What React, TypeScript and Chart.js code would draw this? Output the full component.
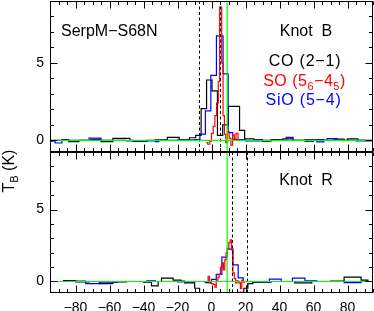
import React, { useEffect, useRef } from 'react';
import { Chart, registerables } from 'chart.js';

Chart.register(...registerables);

// ---------- data ----------
const velocityMin = -95;
const velocityMax = 95;
const xTickLabels = [-80, -60, -40, -20, 0, 20, 40, 60, 80];
const yTickLabels = [0, 5];
const knotBRange = [-0.75, 9.0];
const knotRRange = [-0.8, 9.0];

// Knot B (top panel) — channel left edges (km/s) and T_B (K)
const coB_v = [-95, -88, -84, -78, -71, -65, -58, -48, -46, -38, -33, -26, -19, -13, -9.3, -6.1, -2.9, 0.3, 3.5, 6.6, 9.9, 16.5, 19.5, 25, 30, 35, 42, 48, 55, 60, 66, 72, 78, 80, 86, 90, 95];
const coB_T = [0.0, 0.05, -0.08, 0.0, 0.05, -0.08, 0.13, 0.0, -0.07, 0.0, 0.03, 0.2, 0.05, 0.17, 0.32, 2.05, 3.9, 3.2, 0.32, 1.0, 2.2, 0.65, 0.1, 0.05, -0.05, 0.05, 0.1, 0.0, -0.05, 0.05, 0.0, 0.08, 0.0, 0.1, 0.02, 0.0, 0.0];

const sioB_v = [-95, -92, -88, -72, -65, -50, -33, -31, -20, -10, -6.8, -3.6, -0.4, 2.9, 6.8, 9.8, 12.5, 20, 30, 44, 48, 55, 62, 66, 68, 74, 85, 95];
const sioB_T = [-0.05, -0.17, 0.0, 0.15, 0.0, -0.03, -0.08, 0.0, 0.03, 0.05, 0.4, 1.9, 4.2, 6.75, 4.3, 0.5, 0.05, -0.03, 0.0, 0.2, 0.0, 0.05, -0.1, 0.0, 0.12, 0.0, -0.03, -0.03];

const soB_v = [-3.0, -2.2, -1.0, 0.0, 1.0, 2.0, 3.0, 4.0, 4.8, 6.0, 6.8, 7.6, 8.4, 9.4, 10.4, 11.4, 12.4, 13.4, 14.4, 15.6, 16.6];
const soB_T = [-0.15, -0.25, -0.05, 0.45, 0.9, 1.6, 2.4, 3.8, 8.6, 5.0, 1.6, 0.4, -0.15, 0.55, 0.15, -0.3, 0.35, 0.1, 0.45, 0.0, 0.0];

// Knot R (bottom panel)
const coR_v = [-95, -87, -80, -72, -66, -58, -50, -40, -35.3, -31.4, -29.4, -22.6, -18, -15.8, -9.9, -7.0, 16.0, 19.0, 21.4, 24.3, 35, 49, 59, 70, 78, 88, 92, 95];
const coR_T = [0.0, 0.07, -0.03, 0.0, -0.15, -0.03, 0.0, -0.05, -0.3, 0.0, 0.24, 0.1, 0.03, -0.1, -0.47, -1.5, -0.75, -0.47, -0.15, -0.05, 0.0, -0.1, 0.0, 0.03, 0.3, 0.1, 0.0, 0.0];

const sioR_v = [-95, -85, -74, -65.6, -55, -38, -33, -20, -10, -3.7, -0.1, 2.8, 6.1, 9.2, 12.6, 15.7, 18.7, 25, 34, 41, 47.6, 55, 62, 78, 88, 95];
const sioR_T = [0.0, 0.03, -0.15, -0.05, 0.0, 0.05, 0.0, -0.03, 0.0, -0.08, 0.15, 0.5, 1.7, 2.25, 1.15, 0.25, 0.0, -0.03, 0.17, 0.0, 0.24, 0.05, 0.0, -0.08, 0.0, 0.0];

const soR_v = [-2.5, -2.0, -1.2, 0.0, 1.0, 2.0, 2.8, 3.8, 4.5, 5.3, 6.2, 7.0, 7.8, 8.6, 9.4, 10.2, 11.0, 11.8, 12.6, 13.4, 14.2, 15.0, 16.0, 17.0, 17.8, 18.6, 20.0];
const soR_T = [0.0, 0.35, -0.1, -0.15, -0.2, -0.4, 0.1, 0.3, 0.5, 1.0, 1.3, 0.8, 1.5, 2.0, 2.3, 2.7, 2.9, 2.2, 0.6, 0.2, -0.1, 0.05, -0.1, -0.5, 0.1, -0.05, -0.05];

const systemicVelocity = 9.2;
const knotBDashed = [-7.1, 5.1];
const knotRDashed = [12.2, 21.0];

const sourceName = 'SerpM\u2212S68N';
const knotBLabel = 'Knot  B';
const knotRLabel = 'Knot  R';
const coLabel = [{ t: 'CO (2\u22121)' }];
const soLabel = [{ t: 'SO (5' }, { t: '6', sub: true }, { t: '\u22124' }, { t: '5', sub: true }, { t: ')' }];
const sioLabel = [{ t: 'SiO (5\u22124)' }];
const yTitle = [{ t: 'T' }, { t: 'B', sub: true }, { t: ' (K)' }];

const COLORS = { co: '#000000', so: '#ff0000', sio: '#0000ff', green: '#00ff00' };
const FONT = '"Liberation Sans", Arial, Helvetica, sans-serif';

const zip = (v: number[], t: number[]) => v.map((x, i) => ({ x, y: t[i] }));

type Part = { t: string; sub?: boolean };
function drawRich(ctx: CanvasRenderingContext2D, parts: Part[], cx: number, cy: number, color: string, size: number, spacing = 0) {
  const main = `${size}px ${FONT}`;
  const sub = `${Math.round(size * 0.7)}px ${FONT}`;
  (ctx as any).letterSpacing = `${spacing}px`;
  let w = 0;
  for (const p of parts) {
    ctx.font = p.sub ? sub : main;
    w += ctx.measureText(p.t).width;
  }
  let x = cx - w / 2;
  ctx.fillStyle = color;
  ctx.textBaseline = 'middle';
  ctx.textAlign = 'left';
  for (const p of parts) {
    ctx.font = p.sub ? sub : main;
    ctx.fillText(p.t, x, p.sub ? cy + size * 0.32 : cy);
    x += ctx.measureText(p.t).width;
  }
  (ctx as any).letterSpacing = '0px';
}

const framePlugin = {
  id: 'framePlugin',
  afterDatasetsDraw(chart: any) {
    const ctx: CanvasRenderingContext2D = chart.ctx;
    const { left, right } = chart.chartArea;
    const xs = chart.scales.x;
    const panels = [
      { s: chart.scales.yT, dashed: knotBDashed },
      { s: chart.scales.yB, dashed: knotRDashed },
    ];
    const line = (x1: number, y1: number, x2: number, y2: number) => {
      ctx.beginPath();
      ctx.moveTo(x1, y1);
      ctx.lineTo(x2, y2);
      ctx.stroke();
    };
    ctx.save();
    for (const p of panels) {
      const s = p.s;
      ctx.strokeStyle = '#000';
      ctx.lineWidth = 1;
      ctx.setLineDash([3, 2.5]);
      for (const v of p.dashed) {
        const px = Math.round(xs.getPixelForValue(v)) + 0.5;
        line(px, s.top, px, s.bottom);
      }
      ctx.setLineDash([]);
      ctx.strokeStyle = COLORS.green;
      ctx.lineWidth = 1.2;
      const y0 = s.getPixelForValue(0);
      line(left, y0, right, y0);
    }
    const top = chart.scales.yT.top;
    const bottom = chart.scales.yB.bottom;
    const gx = xs.getPixelForValue(systemicVelocity);
    ctx.strokeStyle = COLORS.green;
    ctx.lineWidth = 1.2;
    line(gx, top, gx, bottom);

    // frames and inward ticks
    ctx.strokeStyle = '#000';
    ctx.lineWidth = 1;
    for (const p of panels) {
      const s = p.s;
      const t = Math.round(s.top) + 0.5;
      const b = Math.round(s.bottom) - 0.5;
      const l = Math.round(left) + 0.5;
      const r = Math.round(right) - 0.5;
      ctx.strokeRect(l, t, r - l, b - t);
      for (let v = Math.ceil(s.min); v <= Math.floor(s.max); v++) {
        const py = Math.round(s.getPixelForValue(v)) + 0.5;
        const len = v % 5 === 0 ? 7 : 3.5;
        line(l, py, l + len, py);
        line(r, py, r - len, py);
      }
      for (let v = -95; v <= 95; v += 5) {
        const px = Math.round(xs.getPixelForValue(v)) + 0.5;
        const len = v % 20 === 0 ? 7 : 3.5;
        line(px, t, px, t + len);
        line(px, b, px, b - len);
      }
    }
    ctx.restore();
  },
  afterDraw(chart: any) {
    const ctx: CanvasRenderingContext2D = chart.ctx;
    ctx.save();
    ctx.fillStyle = '#000';
    ctx.font = `16px ${FONT}`;
    ctx.textBaseline = 'middle';
    ctx.textAlign = 'left';
    ctx.fillText(sourceName, 61, 32);
    drawRich(ctx, [{ t: knotBLabel }], 306, 32, '#000', 16);
    drawRich(ctx, coLabel, 305, 62, COLORS.co, 16, 0.8);
    drawRich(ctx, soLabel, 304.5, 82, COLORS.so, 16, 0.5);
    drawRich(ctx, sioLabel, 303.5, 101, COLORS.sio, 16, 0.8);
    drawRich(ctx, [{ t: knotRLabel }], 306, 181, '#000', 16);
    ctx.translate(10, 171);
    ctx.rotate(-Math.PI / 2);
    drawRich(ctx, yTitle, 0, 0, '#000', 16);
    ctx.restore();
  },
};

const minusFmt = (v: number) => (v < 0 ? '\u2212' + Math.abs(v) : String(v));

function yAxis(range: number[], weight: number, stackWeight: number) {
  return {
    type: 'linear',
    axis: 'y',
    position: 'left',
    stack: 'tb',
    stackWeight,
    weight,
    min: range[0],
    max: range[1],
    grid: { display: false, drawTicks: false },
    border: { display: false },
    afterBuildTicks: (scale: any) => {
      scale.ticks = yTickLabels.map((value) => ({ value }));
    },
    afterFit: (scale: any) => {
      scale.width = 50;
      scale.paddingTop = 0;
      scale.paddingBottom = 0;
      scale.paddingLeft = 0;
      scale.paddingRight = 0;
    },
    ticks: {
      padding: 6,
      color: '#000',
      font: { family: FONT, size: 14 },
      callback: (v: number) => minusFmt(v),
    },
  };
}

function step(data: { x: number; y: number }[], color: string, axis: string) {
  return {
    data,
    borderColor: color,
    backgroundColor: color,
    borderWidth: 1.2,
    pointRadius: 0,
    stepped: true,
    fill: false,
    xAxisID: 'x',
    yAxisID: axis,
  };
}

export default function App() {
  const ref = useRef<HTMLCanvasElement>(null);
  useEffect(() => {
    if (!ref.current) return;
    const chart = new Chart(ref.current, {
      type: 'line',
      data: {
        datasets: [
          step(zip(soB_v, soB_T), COLORS.so, 'yT'),
          step(zip(sioB_v, sioB_T), COLORS.sio, 'yT'),
          step(zip(coB_v, coB_T), COLORS.co, 'yT'),
          step(zip(soR_v, soR_T), COLORS.so, 'yB'),
          step(zip(sioR_v, sioR_T), COLORS.sio, 'yB'),
          step(zip(coR_v, coR_T), COLORS.co, 'yB'),
        ] as any,
      },
      options: {
        responsive: false,
        maintainAspectRatio: false,
        animation: false,
        devicePixelRatio: 1,
        layout: { padding: { top: 1, right: 1, left: 0, bottom: 0 } },
        plugins: { legend: { display: false }, tooltip: { enabled: false } },
        scales: {
          x: {
            type: 'linear',
            min: velocityMin,
            max: velocityMax,
            grid: { display: false, drawTicks: false },
            border: { display: false },
            afterBuildTicks: (scale: any) => {
              scale.ticks = xTickLabels.map((value) => ({ value }));
            },
            afterFit: (scale: any) => {
              scale.height = 18;
              scale.paddingTop = 0;
              scale.paddingBottom = 0;
              scale.paddingLeft = 0;
              scale.paddingRight = 0;
            },
            ticks: {
              autoSkip: false,
              maxRotation: 0,
              padding: 7,
              color: '#000',
              font: { family: FONT, size: 14 },
              callback: (v: number) => minusFmt(v),
            },
          },
          yT: yAxis(knotBRange, 2, 151),
          yB: yAxis(knotRRange, 1, 141),
        } as any,
      },
      plugins: [framePlugin],
    });
    return () => chart.destroy();
  }, []);
  return (
    <div style={{ position: 'fixed', left: 0, top: 0, width: 374, height: 311, background: '#fff' }}>
      <canvas ref={ref} width={374} height={311} style={{ width: 374, height: 311, display: 'block' }} />
    </div>
  );
}
